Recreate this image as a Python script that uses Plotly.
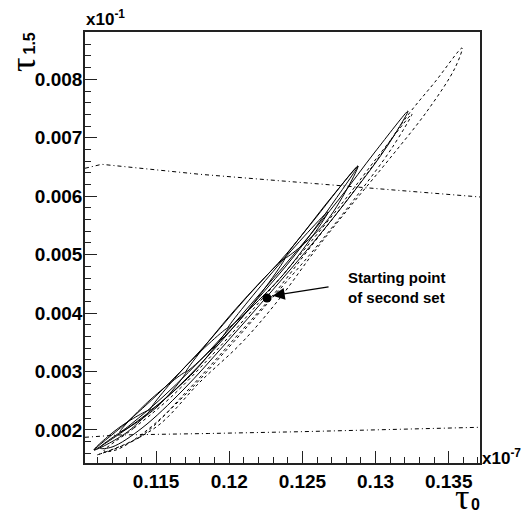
import plotly.graph_objects as go

# Values as displayed on the axes (x in units of 1e-7, y in units of 1e-1)
# Solid contours
W_x = [0.11076, 0.11287, 0.11527, 0.11800, 0.12121, 0.12402, 0.12689, 0.12880, 0.12723, 0.12449, 0.12176, 0.11855, 0.11568, 0.11308, 0.11076]
W_y = [0.001658, 0.002102, 0.002650, 0.003352, 0.004276, 0.005046, 0.005952, 0.006517, 0.005935, 0.004994, 0.004190, 0.003266, 0.002547, 0.002034, 0.001658]

N_x = [0.11117, 0.11322, 0.11561, 0.11882, 0.12197, 0.12484, 0.12757, 0.12996, 0.13222, 0.13085, 0.12860, 0.12572, 0.12279, 0.11978, 0.11684, 0.11404, 0.11199, 0.11117]
N_y = [0.001692, 0.002085, 0.002599, 0.003403, 0.004293, 0.005131, 0.005970, 0.006757, 0.007458, 0.006876, 0.006106, 0.005200, 0.004344, 0.003488, 0.002684, 0.002034, 0.001709, 0.001692]

E1_x = [0.11076, 0.11253, 0.11458, 0.11294, 0.11076]
E1_y = [0.001658, 0.002051, 0.002342, 0.001948, 0.001658]
E2_x = [0.11253, 0.11458, 0.11704, 0.11506, 0.11253]
E2_y = [0.001966, 0.002513, 0.002992, 0.002393, 0.001966]
E3_x = [0.11458, 0.11704, 0.11991, 0.11752, 0.11458]
E3_y = [0.002342, 0.003095, 0.003745, 0.002975, 0.002342]
E4_x = [0.11704, 0.12026, 0.12381, 0.12073, 0.11704]
E4_y = [0.002992, 0.004019, 0.004943, 0.003882, 0.002992]
E5_x = [0.11991, 0.12320, 0.12675, 0.12367, 0.11991]
E5_y = [0.003745, 0.004772, 0.005730, 0.004652, 0.003745]
E6_x = [0.12381, 0.12607, 0.12880, 0.12661, 0.12381]
E6_y = [0.004943, 0.005679, 0.006517, 0.005559, 0.004943]

# Dashed contours
D1_x = [0.11096, 0.11390, 0.11718, 0.12039, 0.12300, 0.12540, 0.12780, 0.13010, 0.13222, 0.13406, 0.13591,
        0.13543, 0.13358, 0.13100, 0.12830, 0.12590, 0.12347, 0.12090, 0.11800, 0.11527, 0.11322, 0.11096]
D1_y = [0.001572, 0.001880, 0.002684, 0.003574, 0.004310, 0.005080, 0.005850, 0.006620, 0.007390, 0.007954, 0.008536,
        0.008194, 0.007475, 0.006654, 0.005833, 0.005080, 0.004258, 0.003506, 0.002821, 0.002102, 0.001794, 0.001572]

D2_x = [0.11144, 0.11349, 0.11595, 0.11909, 0.12224, 0.12511, 0.12784, 0.13024, 0.13249,
        0.13112, 0.12887, 0.12600, 0.12306, 0.12005, 0.11711, 0.11431, 0.11226, 0.11144]
D2_y = [0.001640, 0.002034, 0.002547, 0.003352, 0.004241, 0.005080, 0.005918, 0.006705, 0.007407,
        0.006825, 0.006055, 0.005148, 0.004293, 0.003437, 0.002633, 0.001983, 0.001658, 0.001640]

# Dash-dot limit lines
upper_x = [0.11014, 0.11128, 0.11800, 0.12689, 0.13714]
upper_y = [0.006478, 0.006546, 0.006375, 0.006192, 0.005987]
lower_x = [0.11014, 0.11240, 0.11860, 0.12480, 0.13714]
lower_y = [0.001875, 0.001914, 0.001940, 0.001970, 0.002046]

# Starting point of second set
start_x = [0.12258]
start_y = [0.004258]

fig = go.Figure()

solid = [(W_x, W_y), (N_x, N_y), (E1_x, E1_y), (E2_x, E2_y), (E3_x, E3_y),
         (E4_x, E4_y), (E5_x, E5_y), (E6_x, E6_y)]
for xs, ys in solid:
    fig.add_trace(go.Scatter(x=xs, y=ys, mode="lines",
                             line=dict(color="black", width=1, shape="spline", smoothing=1.0),
                             hoverinfo="skip", showlegend=False))
for xs, ys in [(D1_x, D1_y), (D2_x, D2_y)]:
    fig.add_trace(go.Scatter(x=xs, y=ys, mode="lines",
                             line=dict(color="black", width=1, dash="3px,3px", shape="spline", smoothing=1.0),
                             hoverinfo="skip", showlegend=False))
for xs, ys in [(upper_x, upper_y), (lower_x, lower_y)]:
    fig.add_trace(go.Scatter(x=xs, y=ys, mode="lines",
                             line=dict(color="black", width=1, dash="4px,3px,1px,3px"),
                             hoverinfo="skip", showlegend=False))
fig.add_trace(go.Scatter(x=start_x, y=start_y, mode="markers",
                         marker=dict(color="black", size=9),
                         hoverinfo="skip", showlegend=False))

W, H = 525, 513
L, R, T, B = 85, 45, 32, 50
pw, ph = W - L - R, H - T - B
def px(x):
    return (x - L) / pw
def py(y):
    return (H - B - y) / ph

sans = "Liberation Sans"
axis_common = dict(showline=True, linewidth=1.6, linecolor="#222", mirror=True,
                   ticks="inside", ticklen=12, tickwidth=1.2, tickcolor="#222",
                   showgrid=False, zeroline=False,
                   tickfont=dict(family=sans, size=19, color="black", weight=700))

fig.update_xaxes(range=[0.11014, 0.13714], tickmode="linear", tick0=0.115, dtick=0.005,
                 tickformat=".3~f",
                 minor=dict(ticks="inside", ticklen=6, tickwidth=1.2, tickcolor="#222",
                            tick0=0.110, dtick=0.001, showgrid=False),
                 **axis_common)
fig.update_yaxes(range=[0.001435, 0.00881], tickmode="linear", tick0=0.002, dtick=0.001,
                 tickformat=".3f", ticklabelstandoff=-3,
                 minor=dict(ticks="inside", ticklen=6, tickwidth=1.2, tickcolor="#222",
                            tick0=0.0014, dtick=0.0002, showgrid=False),
                 **axis_common)

ann = []
# arrow
ann.append(dict(x=0.12297, y=0.004298, ax=0.12689, ay=0.004452, xref="x", yref="y",
                axref="x", ayref="y", showarrow=True, arrowhead=2, arrowsize=2,
                arrowwidth=1.2, arrowcolor="black", text="", standoff=0))
ann.append(dict(x=0.12798, y=0.00443, xref="x", yref="y", xanchor="left", yanchor="middle",
                text="Starting point<br>of second set", align="left", showarrow=False,
                font=dict(family=sans, size=15, color="black", weight=700)))
# axis titles
ann.append(dict(x=px(462), y=py(497), xref="paper", yref="paper", text="τ", showarrow=False,
                xanchor="center", yanchor="middle",
                font=dict(family="Liberation Serif", size=36, color="black")))
ann.append(dict(x=px(475), y=py(504), xref="paper", yref="paper", text="0", showarrow=False,
                xanchor="center", yanchor="middle",
                font=dict(family=sans, size=16, color="black", weight=700)))
ann.append(dict(x=px(23), y=py(65), xref="paper", yref="paper", text="τ", showarrow=False,
                xanchor="center", yanchor="middle", textangle=-90,
                font=dict(family="Liberation Serif", size=36, color="black")))
ann.append(dict(x=px(29), y=py(43.5), xref="paper", yref="paper", text="1.5", showarrow=False,
                xanchor="center", yanchor="middle", textangle=-90,
                font=dict(family=sans, size=16, color="black", weight=700)))
# exponent labels
ann.append(dict(x=px(84), y=py(31), xref="paper", yref="paper", text="x10<sup>-1</sup>",
                showarrow=False, xanchor="left", yanchor="bottom",
                font=dict(family=sans, size=17, color="black", weight=700)))
ann.append(dict(x=px(480), y=py(457), xref="paper", yref="paper", text="x10<sup>-7</sup>",
                showarrow=False, xanchor="left", yanchor="middle",
                font=dict(family=sans, size=17, color="black", weight=700)))

fig.update_layout(width=W, height=H, margin=dict(l=L, r=R, t=T, b=B),
                  paper_bgcolor="white", plot_bgcolor="white", annotations=ann)

fig.write_html("out.html")
